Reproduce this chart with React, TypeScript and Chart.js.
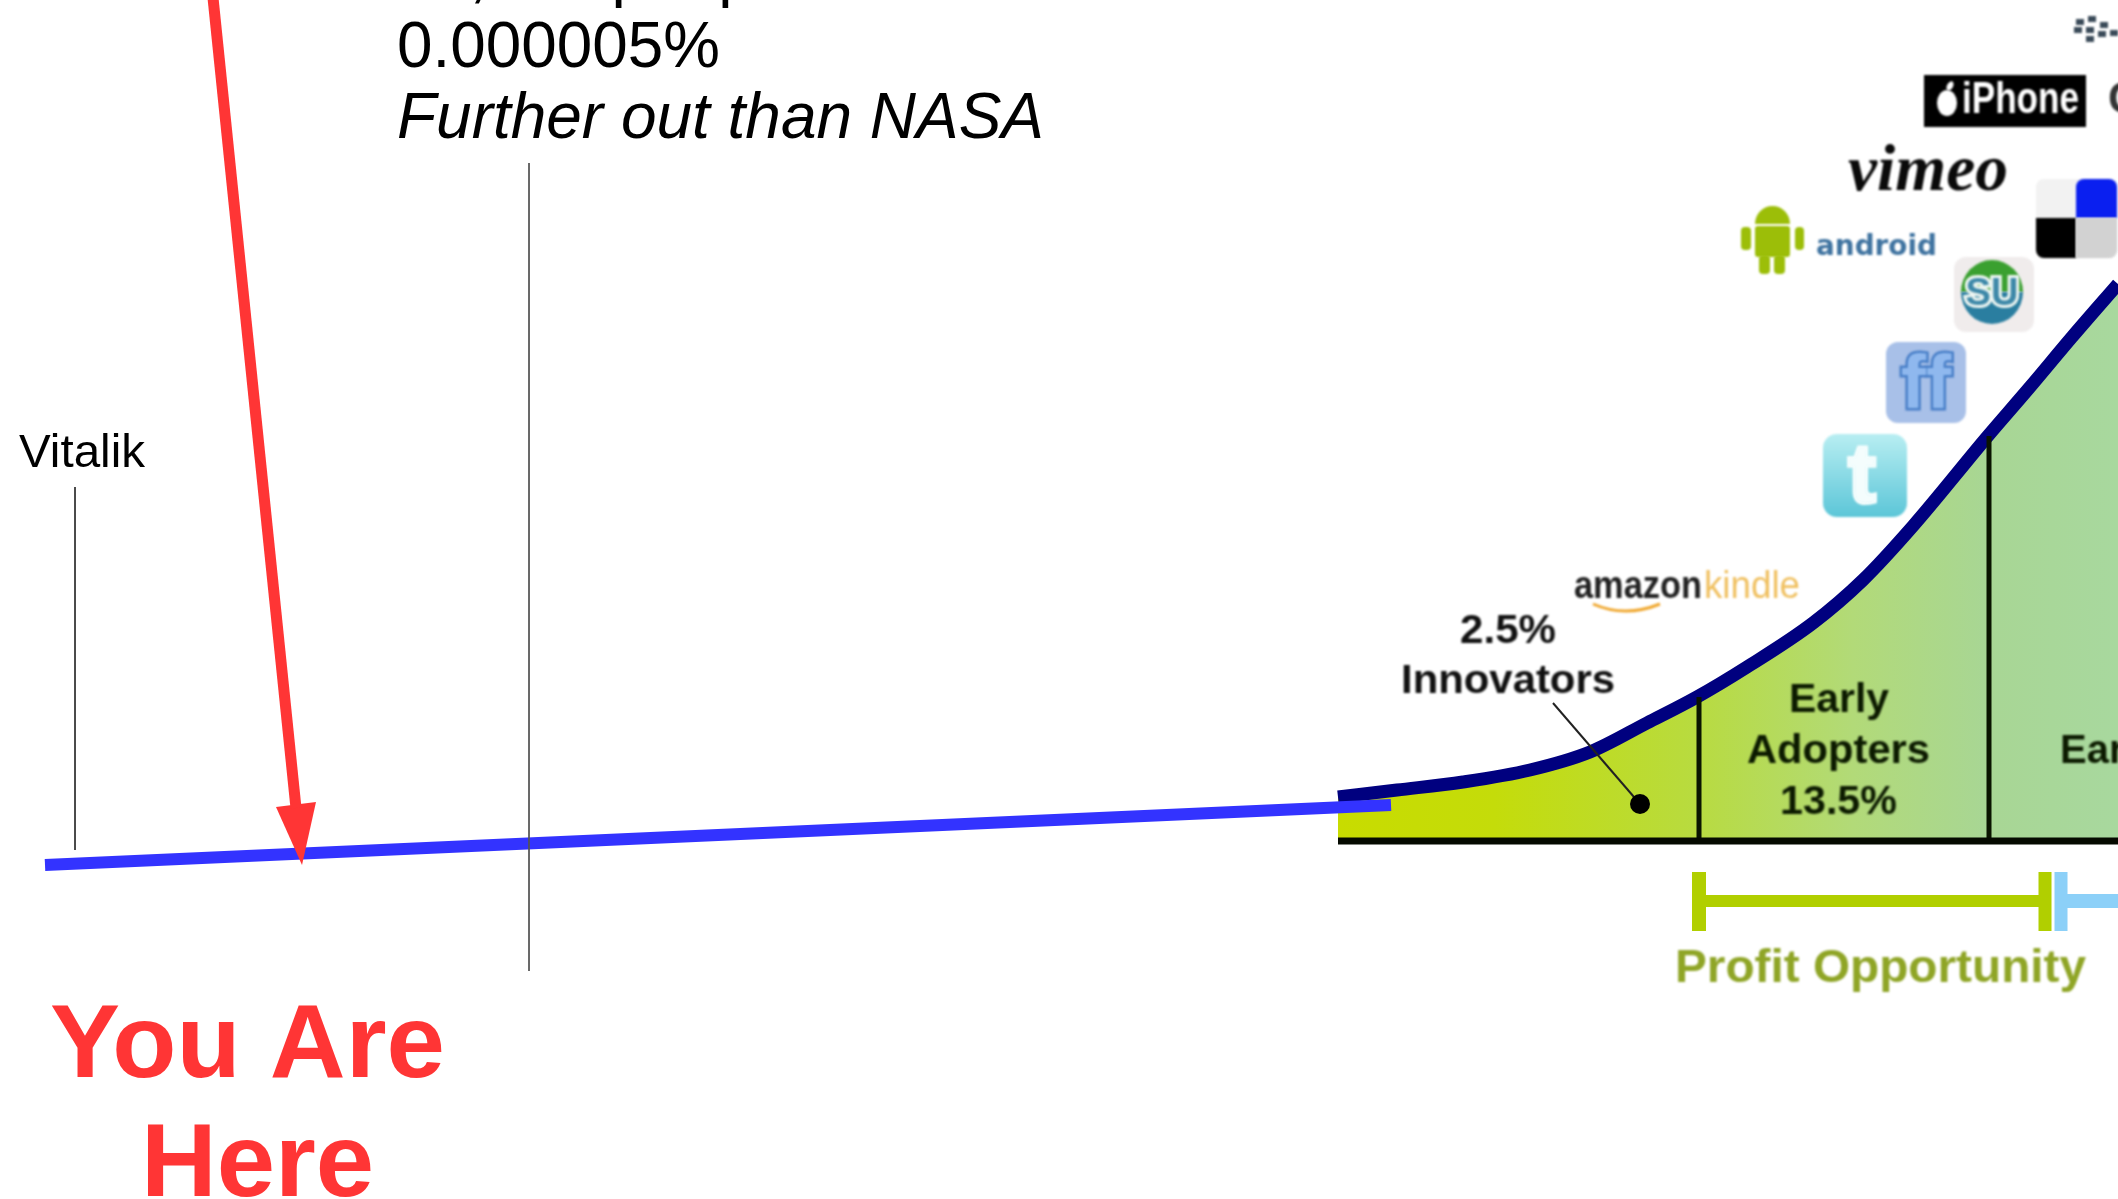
import React, { useEffect, useRef } from "react";
import { Chart, registerables } from "chart.js";

Chart.register(...registerables);

const W = 2118;
const H = 1199;

// Adoption curve
const curveX = [1338, 1397, 1463, 1530, 1590, 1647, 1697, 1747, 1813, 1863, 1913, 1987, 2030, 2072, 2118];
const curveY = [797, 790, 782, 770, 752, 723, 697, 667, 623, 580, 526, 437, 387, 337, 284];
const baselineX = [1338, 2118];
const baselineY = [841, 841];
const earlyDividerX = [1699, 1699];
const earlyDividerY = [697, 841];
const majorityDividerX = [1989, 1989];
const majorityDividerY = [436, 841];

// "You are here" trend line and arrow
const trendX = [45, 1391];
const trendY = [865, 805];
const arrowShaftX = [204, 296];
const arrowShaftY = [-90, 808];
const arrowHeadX = [276, 316, 302];
const arrowHeadY = [807, 802, 865];

// Reference marks
const vitalikX = [75, 75];
const vitalikY = [487, 850];
const nasaX = [529, 529];
const nasaY = [163, 971];

// Innovators pointer
const pointerX = [1553, 1640];
const pointerY = [703, 804];

// Profit opportunity brackets
const profitX = [1699, 2045];
const profitY = [901, 901];
const profitLeftX = [1699, 1699];
const profitRightX = [2045, 2045];
const bracketY = [872, 931];
const nextBracketX = [2061, 2061];
const nextBarX = [2061, 2118];

const pts = (xs: number[], ys: number[]) => xs.map((x, i) => ({ x, y: ys[i] }));

type Label = { t: string; x: number; y: number; font: string; color: string; w?: number; align?: CanvasTextAlign };
const SANS = '"Liberation Sans"';
const labels: Label[] = [
  { t: "35,000 people", x: 398, y: -5, font: `64px ${SANS}`, color: "#000" },
  { t: "0.000005%", x: 397, y: 67, font: `64px ${SANS}`, color: "#000", w: 323 },
  { t: "Further out than NASA", x: 397, y: 138, font: `italic 64px ${SANS}`, color: "#000", w: 647 },
  { t: "Vitalik", x: 19, y: 467, font: `47px ${SANS}`, color: "#000", w: 126 },
  { t: "You Are", x: 50, y: 1077, font: `bold 104px ${SANS}`, color: "#ff3535", w: 395 },
  { t: "Here", x: 141, y: 1196, font: `bold 104px ${SANS}`, color: "#ff3535", w: 233 },
];
const blurredLabels: Label[] = [
  { t: "2.5%", x: 1460, y: 643, font: `bold 40px ${SANS}`, color: "#111", w: 96 },
  { t: "Innovators", x: 1401, y: 693, font: `bold 40px ${SANS}`, color: "#111", w: 214 },
  { t: "Early", x: 1789, y: 712, font: `bold 40px ${SANS}`, color: "#0c1a00", w: 100 },
  { t: "Adopters", x: 1747, y: 763, font: `bold 40px ${SANS}`, color: "#0c1a00", w: 183 },
  { t: "13.5%", x: 1780, y: 814, font: `bold 40px ${SANS}`, color: "#0c1a00", w: 117 },
  { t: "Early", x: 2060, y: 763, font: `bold 40px ${SANS}`, color: "#0c1a00" },
  { t: "Profit Opportunity", x: 1675, y: 982, font: `bold 46px ${SANS}`, color: "#8fa526", w: 411 },
  { t: "amazon", x: 1574, y: 598, font: `bold 38px ${SANS}`, color: "#222", w: 128 },
  { t: "kindle", x: 1704, y: 598, font: `38px ${SANS}`, color: "#f0c060", w: 96 },
  { t: "vimeo", x: 1848, y: 190, font: `italic bold 66px "Liberation Serif"`, color: "#0a0a0a", w: 160 },
  { t: "android", x: 1816, y: 255, font: `bold 28px "DejaVu Sans"`, color: "#3f73a0", w: 121 },
  { t: "iPhone", x: 1962, y: 113, font: `bold 44px ${SANS}`, color: "#fff", w: 117 },
  { t: "G", x: 2108, y: 113, font: `bold 44px ${SANS}`, color: "#333" },
];

const rr = (c: CanvasRenderingContext2D, x0: number, y0: number, x1: number, y1: number, r: number, fill: string | CanvasGradient) => {
  c.beginPath();
  c.roundRect(x0, y0, x1 - x0, y1 - y0, r);
  c.fillStyle = fill;
  c.fill();
};

const drawLabel = (c: CanvasRenderingContext2D, l: Label) => {
  c.save();
  c.font = l.font;
  c.fillStyle = l.color;
  c.textBaseline = "alphabetic";
  c.textAlign = "left";
  const natural = c.measureText(l.t).width;
  c.translate(l.x, l.y);
  if (l.w) c.scale(l.w / natural, 1);
  c.fillText(l.t, 0, 0);
  c.restore();
};

const annotations = {
  id: "annotations",
  afterDatasetsDraw(chart: Chart) {
    const c = chart.ctx;
    c.save();
    labels.forEach((l) => drawLabel(c, l));
    c.filter = "blur(1px)";

    // iPhone badge
    rr(c, 1924, 75, 2086, 127, 0, "#000");
    c.fillStyle = "#fff";
    c.beginPath();
    c.ellipse(1947, 103, 10, 13, 0, 0, Math.PI * 2);
    c.fill();
    c.beginPath();
    c.ellipse(1950, 86, 3, 5, 0.5, 0, Math.PI * 2);
    c.fill();

    // Delicious
    rr(c, 2036, 179, 2117, 258, 8, "#f2f2f2");
    c.fillStyle = "#0a1ff0";
    c.beginPath();
    c.roundRect(2076, 179, 41, 39, [8, 8, 0, 0]);
    c.fill();
    c.fillStyle = "#000";
    c.beginPath();
    c.roundRect(2036, 218, 40, 40, [0, 0, 0, 8]);
    c.fill();
    c.fillStyle = "#d2d2d2";
    c.beginPath();
    c.roundRect(2076, 218, 41, 40, [0, 0, 8, 0]);
    c.fill();

    // Android robot
    const green = "#9cbe08";
    c.fillStyle = green;
    c.beginPath();
    c.ellipse(1772.5, 224, 17.5, 18, 0, Math.PI, 0);
    c.fill();
    rr(c, 1755, 226, 1790, 257, 3, green);
    rr(c, 1741, 227, 1751, 250, 4, green);
    rr(c, 1795, 227, 1804, 250, 4, green);
    rr(c, 1759, 255, 1770, 274, 4, green);
    rr(c, 1774, 255, 1785, 274, 4, green);

    // StumbleUpon
    rr(c, 1954, 257, 2034, 332, 12, "#f0ecec");
    c.fillStyle = "#3aa030";
    c.beginPath();
    c.ellipse(1992, 292, 31, 32, 0, Math.PI, 0);
    c.fill();
    c.fillStyle = "#2a7ea0";
    c.beginPath();
    c.ellipse(1992, 292, 31, 32, 0, 0, Math.PI);
    c.fill();
    c.font = `bold 38px ${SANS}`;
    c.textAlign = "center";
    c.textBaseline = "alphabetic";
    c.lineWidth = 6;
    c.strokeStyle = "#eef6f2";
    c.strokeText("SU", 1992, 305);
    c.fillStyle = "#3d88a8";
    c.fillText("SU", 1992, 305);

    // FriendFeed
    rr(c, 1886, 342, 1966, 423, 12, "#a8c0e8");
    c.font = `bold 76px ${SANS}`;
    c.lineWidth = 5;
    c.strokeStyle = "#4a80c8";
    c.fillStyle = "#8fb8ee";
    c.strokeText("ff", 1926, 408);
    c.fillText("ff", 1926, 408);

    // Twitter
    const tw = c.createLinearGradient(0, 434, 0, 517);
    tw.addColorStop(0, "#b8eef2");
    tw.addColorStop(1, "#5cc6d8");
    rr(c, 1823, 434, 1907, 517, 14, tw);
    c.font = `bold 84px ${SANS}`;
    c.lineWidth = 4;
    c.strokeStyle = "#f4fdfd";
    c.fillStyle = "#f4fdfd";
    c.strokeText("t", 1862, 502);
    c.fillText("t", 1862, 502);

    // Amazon smile
    c.strokeStyle = "#f0a830";
    c.lineWidth = 3;
    c.beginPath();
    c.moveTo(1593, 604);
    c.quadraticCurveTo(1625, 618, 1660, 604);
    c.stroke();

    // BlackBerry
    c.fillStyle = "#3a4a58";
    [[2080, 22], [2092, 19], [2104, 25], [2078, 30], [2090, 30], [2102, 34], [2090, 39], [2114, 33]].forEach(([x, y]) => {
      c.fillRect(x - 4, y - 3, 8, 6);
    });

    blurredLabels.forEach((l) => drawLabel(c, l));
    c.restore();
  },
};

const line = (label: string, xs: number[], ys: number[], color: string, width: number, extra: object = {}) => ({
  type: "line" as const,
  label,
  data: pts(xs, ys),
  borderColor: color,
  borderWidth: width,
  pointRadius: 0,
  fill: false,
  borderCapStyle: "butt" as const,
  ...extra,
});

export default function App() {
  const ref = useRef<HTMLCanvasElement>(null);
  useEffect(() => {
    document.body.style.margin = "0";
    document.body.style.background = "#fff";
    const areaGradient = ref.current!.getContext("2d")!.createLinearGradient(curveX[0], 0, W, 0);
    areaGradient.addColorStop(0, "#c8dc00");
    areaGradient.addColorStop(0.2, "#c4dc0a");
    areaGradient.addColorStop(0.46, "#b8db40");
    areaGradient.addColorStop(0.66, "#b2da78");
    areaGradient.addColorStop(0.83, "#a8d694");
    areaGradient.addColorStop(1, "#a8d89e");
    const chart = new Chart(ref.current!, {
      type: "line",
      data: {
        datasets: [
          line("Arrow shaft", arrowShaftX, arrowShaftY, "#ff3535", 11, { order: 0 }),
          line("Arrow head", arrowHeadX, arrowHeadY, "#ff3535", 0, { order: 0, fill: "shape", backgroundColor: "#ff3535" }),
          line("NASA reach", nasaX, nasaY, "#555555", 1, { order: 1 }),
          line("Vitalik", vitalikX, vitalikY, "#333333", 1, { order: 1 }),
          line("Trend", trendX, trendY, "#3333ff", 12, { order: 2 }),
          {
            type: "line" as const,
            label: "Innovators dot",
            data: pts(pointerX.slice(1), pointerY.slice(1)),
            showLine: false,
            pointRadius: 10,
            pointBackgroundColor: "#000",
            pointBorderWidth: 0,
            order: 3,
          },
          line("Innovators pointer", pointerX, pointerY, "#222222", 2, { order: 3 }),
          line("Baseline", baselineX, baselineY, "#050a00", 7, { order: 4 }),
          line("Early divider", earlyDividerX, earlyDividerY, "#0a1400", 5, { order: 4 }),
          line("Majority divider", majorityDividerX, majorityDividerY, "#0a1400", 5, { order: 4 }),
          line("Adoption curve", curveX, curveY, "#00007f", 13, { order: 5, cubicInterpolationMode: "monotone" }),
          line("Adoption area", curveX, curveY, "rgba(0,0,0,0)", 0, {
            order: 7,
            cubicInterpolationMode: "monotone",
            fill: { value: baselineY[0] },
            backgroundColor: areaGradient,
          }),
          line("Profit bar", profitX, profitY, "#b1cf00", 12, { order: 8 }),
          line("Profit left", profitLeftX, bracketY, "#b1cf00", 14, { order: 8 }),
          line("Profit right", profitRightX, bracketY, "#b1cf00", 13, { order: 8 }),
          line("Next bracket", nextBracketX, bracketY, "#8cd0f8", 13, { order: 8 }),
          line("Next bar", nextBarX, profitY, "#8cd0f8", 14, { order: 8 }),
        ] as any,
      },
      options: {
        animation: false,
        responsive: false,
        devicePixelRatio: 1,
        parsing: { xAxisKey: "x", yAxisKey: "y" },
        layout: { padding: 0, autoPadding: false },
        plugins: { legend: { display: false }, title: { display: false }, tooltip: { enabled: false } },
        scales: {
          x: { type: "linear", min: 0, max: W, display: false },
          y: { type: "linear", min: 0, max: H, reverse: true, display: false },
        },
      },
      plugins: [annotations],
    });
    return () => chart.destroy();
  }, []);
  return (
    <canvas
      ref={ref}
      width={W}
      height={H}
      style={{ position: "fixed", left: 0, top: 0, width: W, height: H, display: "block" }}
    />
  );
}
